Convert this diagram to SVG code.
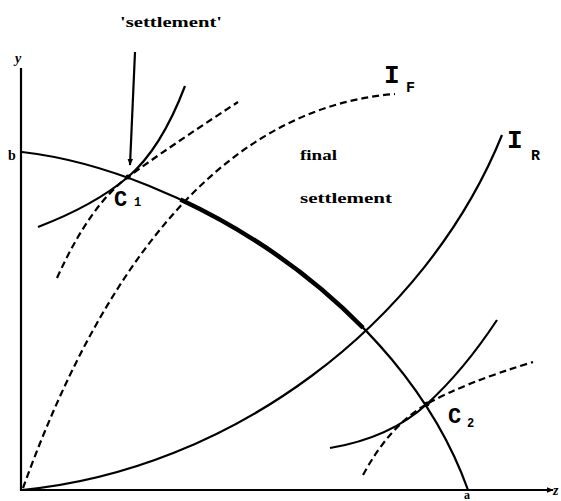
<svg xmlns="http://www.w3.org/2000/svg" width="561" height="501" viewBox="0 0 561 501">
<style>
.ln{fill:none;stroke:#000;stroke-width:2.2}
.dash{fill:none;stroke:#000;stroke-width:2.2;stroke-dasharray:7,4}
.thick{fill:none;stroke:#000;stroke-width:4.5}
.lbl{font-family:"Liberation Serif",serif;font-weight:bold;fill:#000}
.hand{font-family:"Liberation Mono",monospace;font-weight:bold;fill:#000}
</style>
<defs>
<marker id="ah" viewBox="0 0 10 10" refX="9" refY="5" markerWidth="7" markerHeight="7" orient="auto" markerUnits="userSpaceOnUse">
<path d="M0,1 L10,5 L0,9 z" fill="#000"/>
</marker>
</defs>
<rect width="561" height="501" fill="#fff"/>
<g id="axes">
<path class="ln" d="M21,68 L21,491" stroke-width="2.8"/>
<path class="ln" d="M20,490 L553,490" stroke-width="2.8" marker-end="url(#ah)"/>
<text class="lbl" x="15" y="63" font-size="14" font-style="italic">y</text>
<text class="lbl" x="8" y="160" font-size="14">b</text>
<text class="lbl" x="464" y="499" font-size="12">a</text>
<text class="lbl" x="553" y="495" font-size="14" font-style="italic">z</text>
</g>
<g id="contract-curve">
<path class="ln" d="M22,152 C180,170 400,300 468,490"/>
<path class="thick" d="M180.4,199.5 C245.4,230 310,273.7 363,327.8"/>
</g>
<g id="IF">
<path class="dash" d="M23,488 C80,330 190,110 395,94"/>
<text class="hand" x="384" y="83" font-size="26">I</text>
<text class="hand" x="406" y="92" font-size="15">F</text>
</g>
<g id="IR">
<path class="ln" d="M22,490 C230,470 425,325 502,135"/>
<text class="hand" x="507" y="148" font-size="26">I</text>
<text class="hand" x="531" y="160" font-size="15">R</text>
</g>
<g id="C1">
<path class="ln" d="M38,227 Q95,205 128,177 T185,86"/>
<path class="dash" d="M57,278 Q90,205 128,177 T238,102"/>
<circle cx="128" cy="177" r="2.5" fill="#000"/>
<text class="hand" x="114" y="206" font-size="22">C</text>
<text class="hand" x="134" y="206" font-size="12">1</text>
</g>
<g id="C2">
<path class="ln" d="M330,448 Q390,438 427,404 T497,320"/>
<path class="dash" d="M363,475 Q390,425 427,404 T533,362"/>
<circle cx="427" cy="404" r="2.5" fill="#000"/>
<text class="hand" x="448" y="423" font-size="22">C</text>
<text class="hand" x="467" y="427" font-size="12">2</text>
</g>
<g id="connectors">
<path class="ln" d="M135,52 L130,165" marker-end="url(#ah)"/>
</g>
<g id="labels">
<text class="lbl" x="120" y="27" font-size="14" textLength="102" lengthAdjust="spacingAndGlyphs">'settlement'</text>
<text class="lbl" x="300" y="160" font-size="14" textLength="37" lengthAdjust="spacingAndGlyphs">final</text>
<text class="lbl" x="300" y="203" font-size="14" textLength="92" lengthAdjust="spacingAndGlyphs">settlement</text>
</g>
</svg>
